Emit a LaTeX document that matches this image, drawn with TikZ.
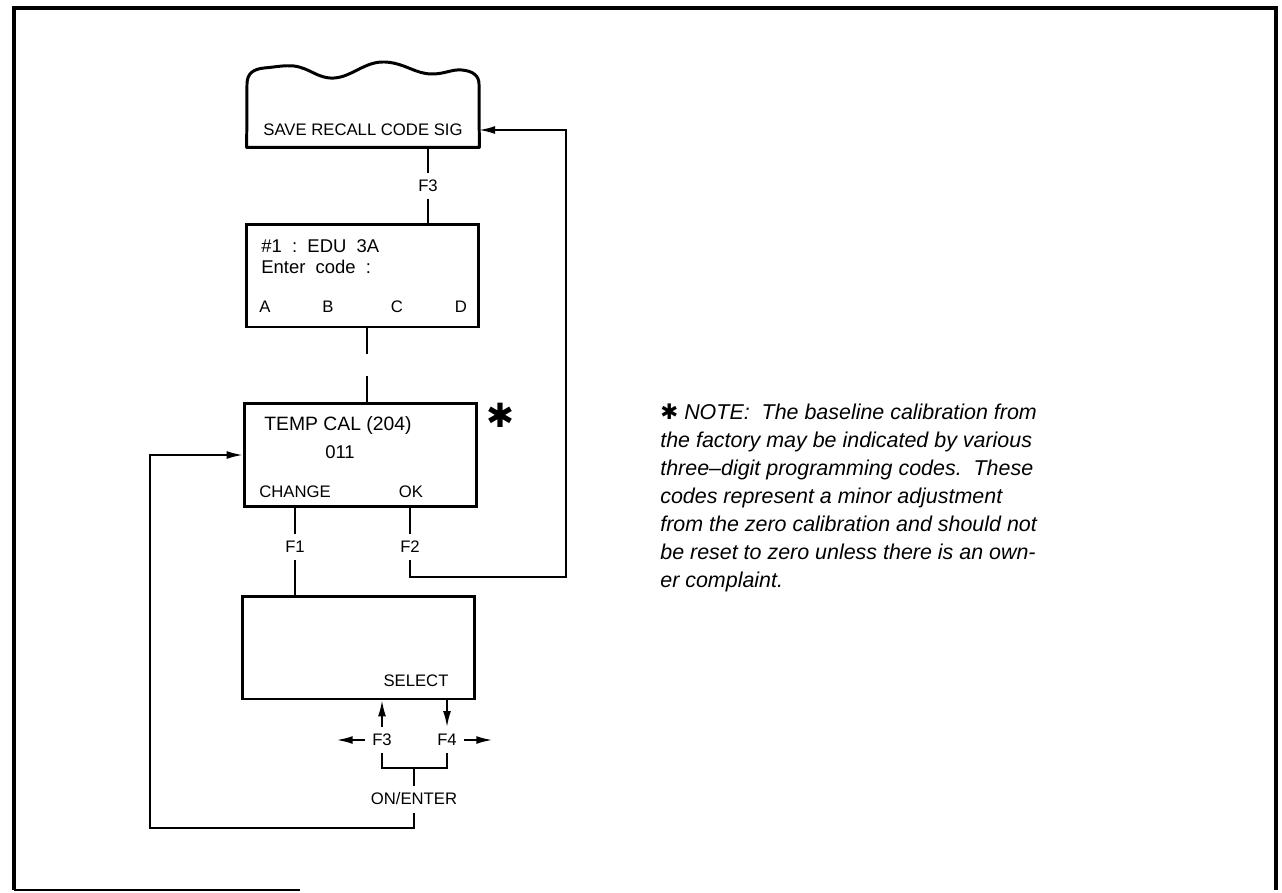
\documentclass[tikz,border=0pt]{standalone}
\usepackage{fontspec}
\setmainfont{Liberation Sans}
\newfontfamily\symfont{DejaVu Sans}
\usetikzlibrary{arrows.meta}

\begin{document}
\begin{tikzpicture}[
    x=0.02cm,
    y=-0.02cm,
    >={Latex[length=9pt,width=4.5pt]},
    font=\fontsize{9.5}{11}\selectfont,
    screen/.style={
        draw,
        rectangle,
        line width=1.7pt,
        minimum width=4.66cm,
        minimum height=2.06cm,
        inner sep=0pt
    },
    outline/.style={line width=1.7pt, line join=round},
    fkey/.style={inner sep=4pt},
    txt/.style={inner sep=0pt},
    wire/.style={line width=0.9pt}
]

\useasboundingbox (0,0) rectangle (1282,893);

% Frame
\draw[line width=2.3pt] (14,890) -- (14,8) -- (1276,8) -- (1276,890);
\draw[line width=0.6pt] (14,890) -- (300,890);

% Nodes
\node[txt, minimum width=4.64cm, minimum height=0.68cm] (menu) at (363,130) {SAVE RECALL CODE SIG};
\draw[outline] (menu.south west) -- (247,84)
    .. controls (247,73) and (254,69) .. (264,68)
    .. controls (276,67) and (284,65) .. (294,66)
    .. controls (310,68) and (318,79) .. (334,78)
    .. controls (352,77) and (365,61) .. (385,62)
    .. controls (405,63) and (415,74) .. (432,74)
    .. controls (445,74) and (452,69) .. (462,70)
    .. controls (472,71) and (479,75) .. (479,84)
    -- (menu.south east) -- cycle;

\node[screen] (code) at (362.5,275.5) {};
\node[txt, anchor=west, font=\fontsize{10.5}{12}\selectfont] (codeid) at (261,246) {\#1\ \ :\ \ EDU\ \ 3A};
\node[txt, anchor=west, font=\fontsize{10.5}{12}\selectfont] (codeask) at (261,267) {Enter\ \ code\ \ :};
\foreach \l/\x in {A/265,B/328,C/397,D/461}
    \node[txt] (key\l) at (\x,307) {\l};

\node[screen] (cal) at (360.5,455) {};
\node[txt, font=\fontsize{11}{12}\selectfont] (calname) at (338,425) {TEMP CAL (204)};
\node[txt, font=\fontsize{10.5}{12}\selectfont] (calval) at (340,452) {011};
\node[txt] (change) at (295,492) {CHANGE};
\node[txt] (ok) at (411,492) {OK};
\node[txt, font=\symfont\fontsize{19}{19}\selectfont] (star) at (500,415) {✱};

\node[screen] (sel) at (358.5,647.5) {};
\node[txt] (select) at (416,681) {SELECT};

\node[fkey] (f3top) at (428,186) {F3};
\node[fkey] (f1) at (295,547) {F1};
\node[fkey] (f2) at (410,547) {F2};
\node[fkey] (f3) at (382,740) {F3};
\node[fkey] (f4) at (447,740) {F4};
\node[fkey] (enter) at (414,799) {ON/ENTER};

\coordinate (gap) at (367,365);
\coordinate (ret) at (566,577);
\coordinate (fork) at (414,768);
\coordinate (back) at (150,828);

% Note
\node[txt, anchor=north west, align=left, font=\itshape\fontsize{12.2}{15.9}\selectfont] (note) at (660,404)
    {{\symfont\upshape ✱} NOTE:\ \ The baseline calibration from\\
     the factory may be indicated by various\\
     three--digit programming codes.\ \ These\\
     codes represent a minor adjustment\\
     from the zero calibration and should not\\
     be reset to zero unless there is an own-\\
     er complaint.};

% Arrows and labels
\draw[wire] (f3top) -- (f3top |- menu.south);
\draw[wire] (f3top) -- (f3top |- code.north);
\draw[wire] (gap |- code.south) -- ++(0,26);
\draw[wire] (gap |- cal.north) -- ++(0,-26);
\draw[wire] (f1) -- (f1 |- cal.south);
\draw[wire] (f1) -- (f1 |- sel.north);
\draw[wire] (f2) -- (f2 |- cal.south);
\draw[wire, ->] (f2) |- (ret) |- (menu.east);
\draw[wire, ->] (f3) -- (f3 |- sel.south);
\draw[wire, ->] (f4 |- sel.south) -- (f4);
\draw[wire, ->] (f3.west) -- ++(-28,0);
\draw[wire, ->] (f4.east) -- ++(28,0);

% Enter loop
\draw[wire] (f3) |- (fork) -| (f4);
\draw[wire] (fork) -- (enter);
\draw[wire, ->] (enter) |- (back) |- (cal.west);

\end{tikzpicture}
\end{document}
